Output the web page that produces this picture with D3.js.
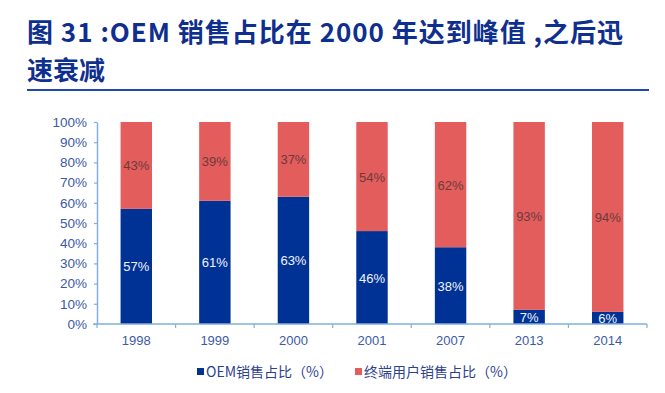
<!DOCTYPE html>
<html><head><meta charset="utf-8">
<script src="https://cdn.jsdelivr.net/npm/d3@7"></script>
<style>body{margin:0;background:#fff}svg{display:block}</style>
</head><body>
<svg id="c" width="665" height="393"></svg>
<script>
const categories = ["1998","1999","2000","2001","2007","2013","2014"];
const oemShare = [57,61,63,46,38,7,6];
const endUserShare = [43,39,37,54,62,93,94];
const yTicks = [0,10,20,30,40,50,60,70,80,90,100];
const seriesNames = ["OEM销售占比（%）","终端用户销售占比（%）"];
const titleLines = ["图 31 :OEM 销售占比在 2000 年达到峰值 ,之后迅","速衰减"];

const svg = d3.select("#c");
const font = "'Noto Sans CJK SC','Noto Sans',sans-serif";
const numFont = "'Liberation Sans',Arial,sans-serif";
const blue = "#003296", red = "#e35d5d", axisCol = "#7fb0de", labCol = "#3c5aa6";

// title
svg.selectAll("text.title").data(titleLines).join("text")
  .attr("x", 27).attr("y", (d,i)=>42+i*38)
  .attr("font-family", font).attr("font-weight", "bold").attr("font-size", 26)
  .attr("fill", "#0f2f8f")
  .each(function(d,i){ if(i===0) d3.select(this).attr("textLength",596).attr("lengthAdjust","spacing"); })
  .text(d=>d);
svg.append("line").attr("x1",27).attr("x2",649).attr("y1",90).attr("y2",90)
  .attr("stroke","#1f48b0").attr("stroke-width",2);

const m = {left:97, right:647, top:122, bottom:324};
const x = d3.scaleBand().domain(categories).range([m.left, m.right]).paddingInner(0.6).paddingOuter(0.3);
const y = d3.scaleLinear().domain([0,100]).range([m.bottom, m.top]);

const data = categories.map((c,i)=>({c, oem:oemShare[i], end:endUserShare[i]}));

// bars
const g = svg.append("g");
g.selectAll("rect.oem").data(data).join("rect")
  .attr("x", d=>x(d.c)).attr("width", x.bandwidth())
  .attr("y", d=>y(d.oem)).attr("height", d=>y(0)-y(d.oem)).attr("fill", blue);
g.selectAll("rect.end").data(data).join("rect")
  .attr("x", d=>x(d.c)).attr("width", x.bandwidth())
  .attr("y", d=>y(d.oem+d.end)).attr("height", d=>y(d.oem)-y(d.oem+d.end)).attr("fill", red);

// labels
g.selectAll("text.oem").data(data).join("text")
  .attr("x", d=>x(d.c)+x.bandwidth()/2).attr("y", d=>y(d.oem/2)+5)
  .attr("text-anchor","middle").attr("font-family",numFont).attr("font-size",13)
  .attr("fill","#f2f2f8").text(d=>d.oem+"%");
g.selectAll("text.end").data(data).join("text")
  .attr("x", d=>x(d.c)+x.bandwidth()/2).attr("y", d=>y(d.oem+d.end/2)+5)
  .attr("text-anchor","middle").attr("font-family",numFont).attr("font-size",13)
  .attr("fill","#6b3b3b").text(d=>d.end+"%");

// y axis
const ya = svg.append("g").attr("transform",`translate(${m.left},0)`)
  .call(d3.axisLeft(y).tickValues(yTicks).tickFormat(d=>d+"%").tickSize(3).tickSizeOuter(0));
ya.select(".domain").attr("stroke",axisCol).attr("stroke-width",1.5);
ya.selectAll(".tick line").attr("stroke",axisCol).attr("stroke-width",1.2);
ya.selectAll(".tick text").attr("fill",labCol).attr("font-size",13.5).attr("font-family",numFont).attr("x",-10);

// x axis
const xa = svg.append("g").attr("transform",`translate(0,${m.bottom})`);
xa.append("line").attr("x1",m.left-4).attr("x2",m.right).attr("stroke",axisCol).attr("stroke-width",1.5);
const bounds = d3.range(categories.length+1).map(i=>m.left + i*(m.right-m.left)/categories.length);
xa.selectAll("line.t").data(bounds).join("line")
  .attr("x1",d=>d).attr("x2",d=>d).attr("y1",0).attr("y2",4).attr("stroke",axisCol).attr("stroke-width",1.2);
xa.selectAll("text").data(categories).join("text")
  .attr("x",d=>x(d)+x.bandwidth()/2).attr("y",21)
  .attr("text-anchor","middle").attr("font-family",numFont).attr("font-size",13)
  .attr("fill",labCol).text(d=>d);

// legend
const lg = svg.append("g").attr("transform","translate(0,372)");
const legX = [197, 355];
const legCols = [blue, red];
seriesNames.forEach((n,i)=>{
  lg.append("rect").attr("x",legX[i]).attr("y",-4).attr("width",7).attr("height",7).attr("fill",legCols[i]);
  lg.append("text").attr("x",legX[i]+9).attr("y",5).attr("font-family",font).attr("font-size",14)
    .attr("fill","#2d3f8f").text(n);
});
</script>
</body></html>
